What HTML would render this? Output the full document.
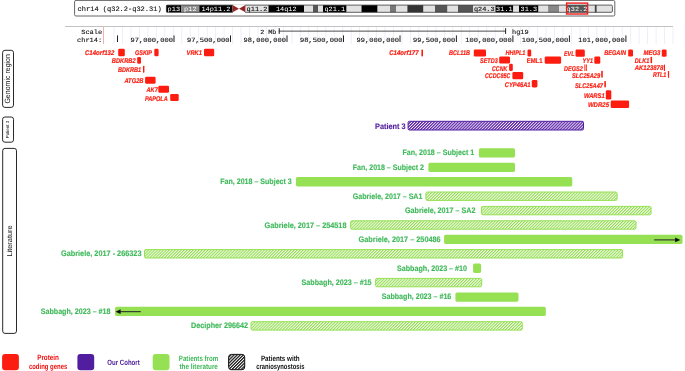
<!DOCTYPE html><html><head><meta charset="utf-8"><title>chr14 q32.2-q32.31 deletions</title>
<style>html,body{margin:0;padding:0;background:#fff}svg{display:block;will-change:transform;opacity:0.999}text{text-rendering:geometricPrecision}.m{font-family:"Liberation Mono",monospace;font-size:6.4px;fill:#111;stroke:#111;stroke-width:0.12px}.mw{font-family:"Liberation Mono",monospace;font-size:6.4px;fill:#fff}.g{font-family:"Liberation Sans",sans-serif;font-weight:bold;font-style:italic;font-size:6.9px;fill:#fd1d10;stroke:#fd1d10;stroke-width:0.2px}.l{font-family:"Liberation Sans",sans-serif;font-weight:bold;font-size:8px;fill:#40ba5b;stroke:#40ba5b;stroke-width:0.15px}.s{font-family:"Liberation Sans",sans-serif;font-size:7px;fill:#111}.k{font-family:"Liberation Sans",sans-serif;font-weight:bold;font-size:7.7px}</style></head><body>
<svg width="685" height="371" viewBox="0 0 685 371">
<defs><pattern id="hg" width="2.1" height="2.1" patternUnits="userSpaceOnUse" patternTransform="rotate(-45)"><rect width="2.1" height="2.1" fill="#f5fced"/><rect width="2.1" height="1.02" fill="#8fdc4c"/></pattern><pattern id="hp" width="2.1" height="2.1" patternUnits="userSpaceOnUse" patternTransform="rotate(-45)"><rect width="2.1" height="2.1" fill="#f1ecfa"/><rect width="2.1" height="1.2" fill="#5a22a6"/></pattern><pattern id="hk" width="2.2" height="2.2" patternUnits="userSpaceOnUse" patternTransform="rotate(-45)"><rect width="2.2" height="2.2" fill="#fff"/><rect width="2.2" height="1.25" fill="#1a1a1a"/></pattern></defs>
<rect width="685" height="371" fill="#fff"/>
<rect x="74.6" y="0.4" width="540.2" height="15.6" fill="#fff" stroke="#666" stroke-width="1" rx="1.4"/>
<text class="m" style="font-size:6.9px" x="77.6" y="10.8" textLength="84" lengthAdjust="spacingAndGlyphs">chr14 (q32.2-q32.31)</text>
<rect x="166.3" y="5.1" width="15.1" height="7.2" fill="#000"/>
<rect x="181.4" y="5.1" width="17.9" height="7.2" fill="#8c8c8c"/>
<rect x="199.3" y="5.1" width="33.3" height="7.2" fill="#000"/>
<rect x="245.4" y="5.1" width="23.1" height="7.2" fill="#e1e2e1"/>
<rect x="268.5" y="5.1" width="35.5" height="7.2" fill="#000"/>
<rect x="304.0" y="5.1" width="9.0" height="7.2" fill="#e1e2e1"/>
<rect x="313.0" y="5.1" width="5.0" height="7.2" fill="#555"/>
<rect x="318.0" y="5.1" width="5.0" height="7.2" fill="#e1e2e1"/>
<rect x="323.0" y="5.1" width="23.6" height="7.2" fill="#000"/>
<rect x="346.6" y="5.1" width="14.9" height="7.2" fill="#e1e2e1"/>
<rect x="361.5" y="5.1" width="16.1" height="7.2" fill="#000"/>
<rect x="377.6" y="5.1" width="12.4" height="7.2" fill="#e1e2e1"/>
<rect x="390.0" y="5.1" width="6.0" height="7.2" fill="#777"/>
<rect x="396.0" y="5.1" width="11.4" height="7.2" fill="#e1e2e1"/>
<rect x="407.4" y="5.1" width="16.1" height="7.2" fill="#333"/>
<rect x="423.5" y="5.1" width="11.5" height="7.2" fill="#e1e2e1"/>
<rect x="435.0" y="5.1" width="12.5" height="7.2" fill="#555"/>
<rect x="447.5" y="5.1" width="10.5" height="7.2" fill="#e1e2e1"/>
<rect x="458.0" y="5.1" width="15.0" height="7.2" fill="#555"/>
<rect x="473.0" y="5.1" width="22.5" height="7.2" fill="#e1e2e1"/>
<rect x="495.5" y="5.1" width="17.8" height="7.2" fill="#000"/>
<rect x="513.3" y="5.1" width="5.7" height="7.2" fill="#e1e2e1"/>
<rect x="519.0" y="5.1" width="19.5" height="7.2" fill="#000"/>
<rect x="538.5" y="5.1" width="9.6" height="7.2" fill="#e1e2e1"/>
<rect x="548.1" y="5.1" width="10.9" height="7.2" fill="#888"/>
<rect x="559.0" y="5.1" width="8.0" height="7.2" fill="#e1e2e1"/>
<rect x="567.0" y="5.1" width="20.6" height="7.2" fill="#5a5a5a"/>
<rect x="587.6" y="5.1" width="7.2" height="7.2" fill="#e1e2e1"/>
<rect x="594.8" y="5.1" width="2.0" height="7.2" fill="#444"/>
<rect x="596.8" y="5.1" width="15.4" height="7.2" fill="#e1e2e1"/>
<rect x="166.4" y="5.1" width="446" height="7.2" rx="1.2" fill="none" stroke="#3a3a3a" stroke-width="0.8"/>
<rect x="232.9" y="4.4" width="12.2" height="8.6" fill="#fff"/>
<polygon points="232.6,5.1 239,8.7 232.6,12.3" fill="#962626"/><polygon points="245.4,5.1 239,8.7 245.4,12.3" fill="#962626"/>
<text class="mw" x="167.6" y="11" textLength="12.5" lengthAdjust="spacingAndGlyphs">p13</text>
<text class="mw" x="184.1" y="11" textLength="12.5" lengthAdjust="spacingAndGlyphs">p12</text>
<text class="mw" x="201.4" y="11" textLength="29.1" lengthAdjust="spacingAndGlyphs">14p11.2</text>
<text class="m" x="246.6" y="11" textLength="20.8" lengthAdjust="spacingAndGlyphs">q11.2</text>
<text class="mw" x="275.9" y="11" textLength="20.8" lengthAdjust="spacingAndGlyphs">14q12</text>
<text class="mw" x="324.4" y="11" textLength="20.8" lengthAdjust="spacingAndGlyphs">q21.1</text>
<text class="m" x="473.9" y="11" textLength="20.8" lengthAdjust="spacingAndGlyphs">q24.3</text>
<text class="mw" x="496.1" y="11" textLength="16.6" lengthAdjust="spacingAndGlyphs">31.1</text>
<text class="mw" x="520.5" y="11" textLength="16.6" lengthAdjust="spacingAndGlyphs">31.3</text>
<text class="mw" x="566.6" y="11" textLength="20.8" lengthAdjust="spacingAndGlyphs">q32.2</text>
<rect x="566.6" y="3.1" width="21" height="10.9" fill="none" stroke="#ee1c1c" stroke-width="1.4"/>
<rect x="65" y="26" width="608" height="0.9" fill="#bbb"/>
<rect x="113.6" y="27" width="0.8" height="17" fill="#e8ebf7"/>
<rect x="122.1" y="27" width="0.8" height="17" fill="#e8ebf7"/>
<rect x="130.5" y="27" width="0.8" height="17" fill="#e8ebf7"/>
<rect x="139.0" y="27" width="0.8" height="17" fill="#e8ebf7"/>
<rect x="147.5" y="27" width="0.8" height="17" fill="#e8ebf7"/>
<rect x="155.9" y="27" width="0.8" height="17" fill="#e8ebf7"/>
<rect x="164.4" y="27" width="0.8" height="17" fill="#e8ebf7"/>
<rect x="172.9" y="27" width="0.8" height="17" fill="#e8ebf7"/>
<rect x="181.4" y="27" width="0.8" height="17" fill="#e8ebf7"/>
<rect x="189.8" y="27" width="0.8" height="17" fill="#e8ebf7"/>
<rect x="198.3" y="27" width="0.8" height="17" fill="#e8ebf7"/>
<rect x="206.8" y="27" width="0.8" height="17" fill="#e8ebf7"/>
<rect x="215.2" y="27" width="0.8" height="17" fill="#e8ebf7"/>
<rect x="223.7" y="27" width="0.8" height="17" fill="#e8ebf7"/>
<rect x="232.2" y="27" width="0.8" height="17" fill="#e8ebf7"/>
<rect x="240.6" y="27" width="0.8" height="17" fill="#e8ebf7"/>
<rect x="249.1" y="27" width="0.8" height="17" fill="#e8ebf7"/>
<rect x="257.6" y="27" width="0.8" height="17" fill="#e8ebf7"/>
<rect x="266.1" y="27" width="0.8" height="17" fill="#e8ebf7"/>
<rect x="274.5" y="27" width="0.8" height="17" fill="#e8ebf7"/>
<rect x="283.0" y="27" width="0.8" height="17" fill="#e8ebf7"/>
<rect x="291.5" y="27" width="0.8" height="17" fill="#e8ebf7"/>
<rect x="299.9" y="27" width="0.8" height="17" fill="#e8ebf7"/>
<rect x="308.4" y="27" width="0.8" height="17" fill="#e8ebf7"/>
<rect x="316.9" y="27" width="0.8" height="17" fill="#e8ebf7"/>
<rect x="325.4" y="27" width="0.8" height="17" fill="#e8ebf7"/>
<rect x="333.8" y="27" width="0.8" height="17" fill="#e8ebf7"/>
<rect x="342.3" y="27" width="0.8" height="17" fill="#e8ebf7"/>
<rect x="350.8" y="27" width="0.8" height="17" fill="#e8ebf7"/>
<rect x="359.2" y="27" width="0.8" height="17" fill="#e8ebf7"/>
<rect x="367.7" y="27" width="0.8" height="17" fill="#e8ebf7"/>
<rect x="376.2" y="27" width="0.8" height="17" fill="#e8ebf7"/>
<rect x="384.6" y="27" width="0.8" height="17" fill="#e8ebf7"/>
<rect x="393.1" y="27" width="0.8" height="17" fill="#e8ebf7"/>
<rect x="401.6" y="27" width="0.8" height="17" fill="#e8ebf7"/>
<rect x="410.1" y="27" width="0.8" height="17" fill="#e8ebf7"/>
<rect x="418.5" y="27" width="0.8" height="17" fill="#e8ebf7"/>
<rect x="427.0" y="27" width="0.8" height="17" fill="#e8ebf7"/>
<rect x="435.5" y="27" width="0.8" height="17" fill="#e8ebf7"/>
<rect x="443.9" y="27" width="0.8" height="17" fill="#e8ebf7"/>
<rect x="452.4" y="27" width="0.8" height="17" fill="#e8ebf7"/>
<rect x="460.9" y="27" width="0.8" height="17" fill="#e8ebf7"/>
<rect x="469.3" y="27" width="0.8" height="17" fill="#e8ebf7"/>
<rect x="477.8" y="27" width="0.8" height="17" fill="#e8ebf7"/>
<rect x="486.3" y="27" width="0.8" height="17" fill="#e8ebf7"/>
<rect x="494.8" y="27" width="0.8" height="17" fill="#e8ebf7"/>
<rect x="503.2" y="27" width="0.8" height="17" fill="#e8ebf7"/>
<rect x="511.7" y="27" width="0.8" height="17" fill="#e8ebf7"/>
<rect x="520.2" y="27" width="0.8" height="17" fill="#e8ebf7"/>
<rect x="528.6" y="27" width="0.8" height="17" fill="#e8ebf7"/>
<rect x="537.1" y="27" width="0.8" height="17" fill="#e8ebf7"/>
<rect x="545.6" y="27" width="0.8" height="17" fill="#e8ebf7"/>
<rect x="554.0" y="27" width="0.8" height="17" fill="#e8ebf7"/>
<rect x="562.5" y="27" width="0.8" height="17" fill="#e8ebf7"/>
<rect x="571.0" y="27" width="0.8" height="17" fill="#e8ebf7"/>
<rect x="579.5" y="27" width="0.8" height="17" fill="#e8ebf7"/>
<rect x="587.9" y="27" width="0.8" height="17" fill="#e8ebf7"/>
<rect x="596.4" y="27" width="0.8" height="17" fill="#e8ebf7"/>
<rect x="604.9" y="27" width="0.8" height="17" fill="#e8ebf7"/>
<rect x="613.3" y="27" width="0.8" height="17" fill="#e8ebf7"/>
<rect x="621.8" y="27" width="0.8" height="17" fill="#e8ebf7"/>
<rect x="630.3" y="27" width="0.8" height="17" fill="#e8ebf7"/>
<rect x="638.7" y="27" width="0.8" height="17" fill="#e8ebf7"/>
<rect x="647.2" y="27" width="0.8" height="17" fill="#e8ebf7"/>
<rect x="655.7" y="27" width="0.8" height="17" fill="#e8ebf7"/>
<rect x="664.2" y="27" width="0.8" height="17" fill="#e8ebf7"/>
<rect x="672.6" y="27" width="0.8" height="17" fill="#e8ebf7"/>
<rect x="103" y="27" width="0.9" height="17" fill="#f6a8a8"/>
<text class="m" x="81.2" y="34" textLength="21" lengthAdjust="spacingAndGlyphs">Scale</text>
<text class="m" x="77" y="41.7" textLength="25.2" lengthAdjust="spacingAndGlyphs">chr14:</text>
<text class="m" x="260.2" y="34" textLength="16" lengthAdjust="spacingAndGlyphs">2 Mb</text>
<rect x="278.8" y="30.7" width="226.8" height="0.8" fill="#222"/><rect x="278.7" y="28.2" width="1" height="5.7" fill="#222"/><rect x="505.1" y="28.2" width="1" height="5.7" fill="#222"/>
<text class="m" x="512" y="34" textLength="16.6" lengthAdjust="spacingAndGlyphs">hg19</text>
<rect x="117" y="35.4" width="1" height="6.6" fill="#222"/>
<rect x="173.5" y="35.4" width="1" height="6.6" fill="#222"/>
<text class="m" x="130.6" y="42" textLength="42.3" lengthAdjust="spacingAndGlyphs">97,000,000</text>
<rect x="230.0" y="35.4" width="1" height="6.6" fill="#222"/>
<text class="m" x="187.1" y="42" textLength="42.3" lengthAdjust="spacingAndGlyphs">97,500,000</text>
<rect x="286.5" y="35.4" width="1" height="6.6" fill="#222"/>
<text class="m" x="243.6" y="42" textLength="42.3" lengthAdjust="spacingAndGlyphs">98,000,000</text>
<rect x="343.0" y="35.4" width="1" height="6.6" fill="#222"/>
<text class="m" x="300.1" y="42" textLength="42.3" lengthAdjust="spacingAndGlyphs">98,500,000</text>
<rect x="399.5" y="35.4" width="1" height="6.6" fill="#222"/>
<text class="m" x="356.6" y="42" textLength="42.3" lengthAdjust="spacingAndGlyphs">99,000,000</text>
<rect x="455.9" y="35.4" width="1" height="6.6" fill="#222"/>
<text class="m" x="413.0" y="42" textLength="42.3" lengthAdjust="spacingAndGlyphs">99,500,000</text>
<rect x="512.4" y="35.4" width="1" height="6.6" fill="#222"/>
<text class="m" x="465.3" y="42" textLength="46.5" lengthAdjust="spacingAndGlyphs">100,000,000</text>
<rect x="568.9" y="35.4" width="1" height="6.6" fill="#222"/>
<text class="m" x="521.8" y="42" textLength="46.5" lengthAdjust="spacingAndGlyphs">100,500,000</text>
<rect x="625.4" y="35.4" width="1" height="6.6" fill="#222"/>
<text class="m" x="578.3" y="42" textLength="46.5" lengthAdjust="spacingAndGlyphs">101,000,000</text>
<text class="g" x="85.0" y="55.0" textLength="29.3" lengthAdjust="spacingAndGlyphs">C14orf132</text>
<rect x="118.2" y="48.8" width="6.6" height="7.4" rx="1.3" fill="#fd1d10"/>
<text class="g" x="135.0" y="55.0" textLength="17.0" lengthAdjust="spacingAndGlyphs">GSKIP</text>
<rect x="154.3" y="48.8" width="4.3" height="7.4" rx="1.3" fill="#fd1d10"/>
<text class="g" x="186.6" y="55.0" textLength="15.4" lengthAdjust="spacingAndGlyphs">VRK1</text>
<rect x="204.0" y="48.8" width="10.2" height="7.4" rx="1.3" fill="#fd1d10"/>
<text class="g" x="111.8" y="62.9" textLength="23.9" lengthAdjust="spacingAndGlyphs">BDKRB2</text>
<rect x="137.2" y="56.9" width="3.8" height="6.9" rx="1.3" fill="#fd1d10"/>
<text class="g" x="118.0" y="72.3" textLength="23.2" lengthAdjust="spacingAndGlyphs">BDKRB1</text>
<rect x="143.0" y="65.7" width="1.4" height="7.0" rx="0.6" fill="#fd1d10"/>
<text class="g" x="124.4" y="83.3" textLength="19.1" lengthAdjust="spacingAndGlyphs">ATG2B</text>
<rect x="145.1" y="76.8" width="10.5" height="7.0" rx="1.3" fill="#fd1d10"/>
<text class="g" x="146.5" y="92.1" textLength="11.3" lengthAdjust="spacingAndGlyphs">AK7</text>
<rect x="158.3" y="85.7" width="10.7" height="7.0" rx="1.3" fill="#fd1d10"/>
<text class="g" x="145.0" y="100.7" textLength="22.8" lengthAdjust="spacingAndGlyphs">PAPOLA</text>
<rect x="170.2" y="94.0" width="8.5" height="7.0" rx="1.3" fill="#fd1d10"/>
<text class="g" x="389.2" y="55.1" textLength="29.4" lengthAdjust="spacingAndGlyphs">C14orf177</text>
<rect x="421.4" y="49.4" width="1.6" height="7.1" rx="0.7" fill="#fd1d10"/>
<text class="g" x="449.0" y="55.1" textLength="21.0" lengthAdjust="spacingAndGlyphs">BCL11B</text>
<rect x="473.8" y="49.5" width="12.2" height="7.0" rx="1.3" fill="#fd1d10"/>
<text class="g" x="480.0" y="62.9" textLength="17.8" lengthAdjust="spacingAndGlyphs">SETD3</text>
<rect x="499.2" y="56.5" width="10.8" height="7.1" rx="1.3" fill="#fd1d10"/>
<text class="g" x="492.0" y="70.5" textLength="15.3" lengthAdjust="spacingAndGlyphs">CCNK</text>
<rect x="509.1" y="63.8" width="3.7" height="7.2" rx="1.3" fill="#fd1d10"/>
<text class="g" x="485.0" y="78.2" textLength="25.3" lengthAdjust="spacingAndGlyphs">CCDC85C</text>
<rect x="512.4" y="72.0" width="10.8" height="7.2" rx="1.3" fill="#fd1d10"/>
<text class="g" x="504.8" y="87.3" textLength="25.8" lengthAdjust="spacingAndGlyphs">CYP46A1</text>
<rect x="531.8" y="80.0" width="5.6" height="7.4" rx="1.3" fill="#fd1d10"/>
<text class="g" x="505.5" y="55.3" textLength="20.0" lengthAdjust="spacingAndGlyphs">HHIPL1</text>
<rect x="527.5" y="49.6" width="3.7" height="7.0" rx="1.3" fill="#fd1d10"/>
<text class="g" style="font-style:normal" x="526.8" y="62.8" textLength="15.6" lengthAdjust="spacingAndGlyphs">EML1</text>
<rect x="544.7" y="56.4" width="16.4" height="7.4" rx="1.3" fill="#fd1d10"/>
<text class="g" x="564.0" y="55.5" textLength="10.5" lengthAdjust="spacingAndGlyphs">EVL</text>
<rect x="575.5" y="49.6" width="9.3" height="7.2" rx="1.3" fill="#fd1d10"/>
<text class="g" x="582.6" y="63.1" textLength="10.4" lengthAdjust="spacingAndGlyphs">YY1</text>
<rect x="594.3" y="56.5" width="6.0" height="7.3" rx="1.3" fill="#fd1d10"/>
<text class="g" x="564.0" y="70.5" textLength="18.8" lengthAdjust="spacingAndGlyphs">DEGS2</text>
<text class="g" x="572.0" y="78.3" textLength="28.2" lengthAdjust="spacingAndGlyphs">SLC25A29</text>
<rect x="601.2" y="70.7" width="1.6" height="7.1" rx="0.7" fill="#fd1d10"/>
<text class="g" x="575.0" y="88.0" textLength="28.0" lengthAdjust="spacingAndGlyphs">SLC25A47</text>
<rect x="604.3" y="80.9" width="1.6" height="6.6" rx="0.7" fill="#fd1d10"/>
<text class="g" x="584.0" y="98.1" textLength="20.7" lengthAdjust="spacingAndGlyphs">WARS1</text>
<rect x="605.8" y="90.3" width="5.5" height="9.3" rx="1.3" fill="#fd1d10"/>
<text class="g" x="587.9" y="107.0" textLength="21.1" lengthAdjust="spacingAndGlyphs">WDR25</text>
<rect x="610.7" y="100.4" width="18.4" height="7.6" rx="1.3" fill="#fd1d10"/>
<text class="g" x="604.2" y="55.2" textLength="21.8" lengthAdjust="spacingAndGlyphs">BEGAIN</text>
<rect x="628.2" y="49.5" width="4.8" height="7.0" rx="1.3" fill="#fd1d10"/>
<text class="g" x="643.4" y="55.2" textLength="17.0" lengthAdjust="spacingAndGlyphs">MEG3</text>
<rect x="661.8" y="49.4" width="4.8" height="7.3" rx="1.3" fill="#fd1d10"/>
<text class="g" x="634.8" y="63.0" textLength="14.4" lengthAdjust="spacingAndGlyphs">DLK1</text>
<rect x="650.5" y="56.8" width="1.6" height="6.5" rx="0.7" fill="#fd1d10"/>
<text class="g" x="634.8" y="70.2" textLength="28.4" lengthAdjust="spacingAndGlyphs">AK123878</text>
<rect x="663.8" y="64.4" width="1.2" height="6.6" rx="0.5" fill="#fd1d10"/>
<text class="g" x="653.0" y="77.0" textLength="13.3" lengthAdjust="spacingAndGlyphs">RTL1</text>
<rect x="667.9" y="71.0" width="1.2" height="6.8" rx="0.5" fill="#fd1d10"/>
<rect x="584.4" y="64.4" width="0.9" height="6.6" fill="#fd1d10"/><rect x="585.9" y="64.4" width="0.9" height="6.6" fill="#fd1d10"/>
<rect x="2.6" y="50.3" width="10.9" height="57.1" rx="2.3" fill="#fff" stroke="#111" stroke-width="0.9"/>
<text class="s" style="font-size:7.6px" transform="translate(10.2,78.8) rotate(-90)" x="-24.8" y="0" textLength="49.5" lengthAdjust="spacingAndGlyphs">Genomic region</text>
<rect x="2.6" y="117.0" width="10.9" height="25.2" rx="2.3" fill="#fff" stroke="#111" stroke-width="0.9"/>
<text class="s" style="font-size:4.4px" transform="translate(9.3,129.6) rotate(-90)" x="-8.7" y="0" textLength="17.4" lengthAdjust="spacingAndGlyphs">Patient 3</text>
<rect x="2.7" y="148.4" width="13.8" height="185.0" rx="2.3" fill="#fff" stroke="#111" stroke-width="0.9"/>
<text class="s" style="font-size:7.2px" transform="translate(11.8,240.9) rotate(-90)" x="-15.7" y="0" textLength="31.3" lengthAdjust="spacingAndGlyphs">Literature</text>
<text class="l" style="fill:#521ea0;stroke:#521ea0;font-size:8px" x="375" y="128.5" textLength="30.5" lengthAdjust="spacingAndGlyphs">Patient 3</text>
<rect x="408.1" y="121.3" width="175.4" height="8.7" rx="1.3" fill="url(#hp)" stroke="#521ea0" stroke-width="1"/>
<text class="l" x="402.5" y="155.3" textLength="71.7" lengthAdjust="spacingAndGlyphs">Fan, 2018 – Subject 1</text>
<rect x="478.9" y="148.3" width="36.1" height="9.3" rx="1.7" fill="#95e053"/>
<text class="l" x="352.8" y="169.7" textLength="71.2" lengthAdjust="spacingAndGlyphs">Fan, 2018 – Subject 2</text>
<rect x="428.4" y="162.7" width="86.6" height="9.3" rx="1.7" fill="#95e053"/>
<text class="l" x="220.2" y="184.1" textLength="71.6" lengthAdjust="spacingAndGlyphs">Fan, 2018 – Subject 3</text>
<rect x="295.9" y="177.1" width="276.4" height="9.3" rx="1.7" fill="#95e053"/>
<text class="l" x="352.8" y="198.5" textLength="69.6" lengthAdjust="spacingAndGlyphs">Gabriele, 2017 – SA1</text>
<rect x="425.9" y="192.0" width="191.2" height="8.4" rx="1.5" fill="url(#hg)" stroke="#95e053" stroke-width="1"/>
<text class="l" x="405.0" y="212.9" textLength="70.4" lengthAdjust="spacingAndGlyphs">Gabriele, 2017 – SA2</text>
<rect x="481.4" y="206.4" width="169.7" height="8.4" rx="1.5" fill="url(#hg)" stroke="#95e053" stroke-width="1"/>
<text class="l" x="264.5" y="228.1" textLength="82.0" lengthAdjust="spacingAndGlyphs">Gabriele, 2017 – 254518</text>
<rect x="350.6" y="220.8" width="285.4" height="8.4" rx="1.5" fill="url(#hg)" stroke="#95e053" stroke-width="1"/>
<text class="l" x="358.6" y="241.8" textLength="82.1" lengthAdjust="spacingAndGlyphs">Gabriele, 2017 – 250486</text>
<rect x="444.1" y="234.8" width="238.4" height="9.3" rx="1.7" fill="#95e053"/>
<text class="l" x="61.0" y="256.2" textLength="80.5" lengthAdjust="spacingAndGlyphs">Gabriele, 2017 - 266323</text>
<rect x="144.5" y="249.6" width="478.1" height="8.4" rx="1.5" fill="url(#hg)" stroke="#95e053" stroke-width="1"/>
<text class="l" x="397.0" y="270.6" textLength="70.0" lengthAdjust="spacingAndGlyphs">Sabbagh, 2023 – #10</text>
<rect x="473.1" y="263.6" width="8.0" height="9.3" rx="1.7" fill="#95e053"/>
<text class="l" x="301.6" y="285.0" textLength="70.0" lengthAdjust="spacingAndGlyphs">Sabbagh, 2023 – #15</text>
<rect x="375.6" y="278.4" width="106.1" height="8.4" rx="1.5" fill="url(#hg)" stroke="#95e053" stroke-width="1"/>
<text class="l" x="381.7" y="299.4" textLength="69.6" lengthAdjust="spacingAndGlyphs">Sabbagh, 2023 – #16</text>
<rect x="455.4" y="292.4" width="63.1" height="9.3" rx="1.7" fill="#95e053"/>
<text class="l" x="40.7" y="313.8" textLength="69.8" lengthAdjust="spacingAndGlyphs">Sabbagh, 2023 – #18</text>
<rect x="115.1" y="306.8" width="430.7" height="9.3" rx="1.7" fill="#95e053"/>
<text class="l" x="191.0" y="328.2" textLength="57.0" lengthAdjust="spacingAndGlyphs">Decipher 296642</text>
<rect x="251.0" y="321.7" width="271.3" height="8.4" rx="1.5" fill="url(#hg)" stroke="#95e053" stroke-width="1"/>
<path d="M654.2 239.9H676" stroke="#222" stroke-width="1" fill="none"/><polygon points="680.3,239.9 675.2,237.5 675.2,242.3" fill="#111"/>
<path d="M140.8 311.7H119" stroke="#222" stroke-width="1" fill="none"/><polygon points="115.5,311.7 120.6,309.3 120.6,314.1" fill="#111"/>
<rect x="2.1" y="353.9" width="16.8" height="16.3" rx="3" fill="#fd1d10"/>
<rect x="77.4" y="353.9" width="16.8" height="16.3" rx="3" fill="#521ea0"/>
<rect x="152.7" y="353.9" width="16.8" height="16.3" rx="3" fill="#95e053"/>
<rect x="228.6" y="354.4" width="16.1" height="15.3" rx="2.8" fill="url(#hk)" stroke="#111" stroke-width="1"/>
<text class="k" fill="#f01010" x="37.2" y="360.4" textLength="21.8" lengthAdjust="spacingAndGlyphs">Protein</text>
<text class="k" fill="#f01010" x="28.9" y="368.5" textLength="38.4" lengthAdjust="spacingAndGlyphs">coding genes</text>
<text class="k" fill="#4a1a9a" x="107.3" y="364.7" textLength="32.4" lengthAdjust="spacingAndGlyphs">Our Cohort</text>
<text class="k" fill="#40ba5b" x="178.8" y="360.5" textLength="39.5" lengthAdjust="spacingAndGlyphs">Patients from</text>
<text class="k" fill="#40ba5b" x="179.5" y="368.5" textLength="38.4" lengthAdjust="spacingAndGlyphs">the literature</text>
<text class="k" fill="#111" x="260.9" y="360.5" textLength="38.7" lengthAdjust="spacingAndGlyphs">Patients with</text>
<text class="k" fill="#111" x="256.2" y="368.5" textLength="48.2" lengthAdjust="spacingAndGlyphs">craniosynostosis</text>
</svg></body></html>
